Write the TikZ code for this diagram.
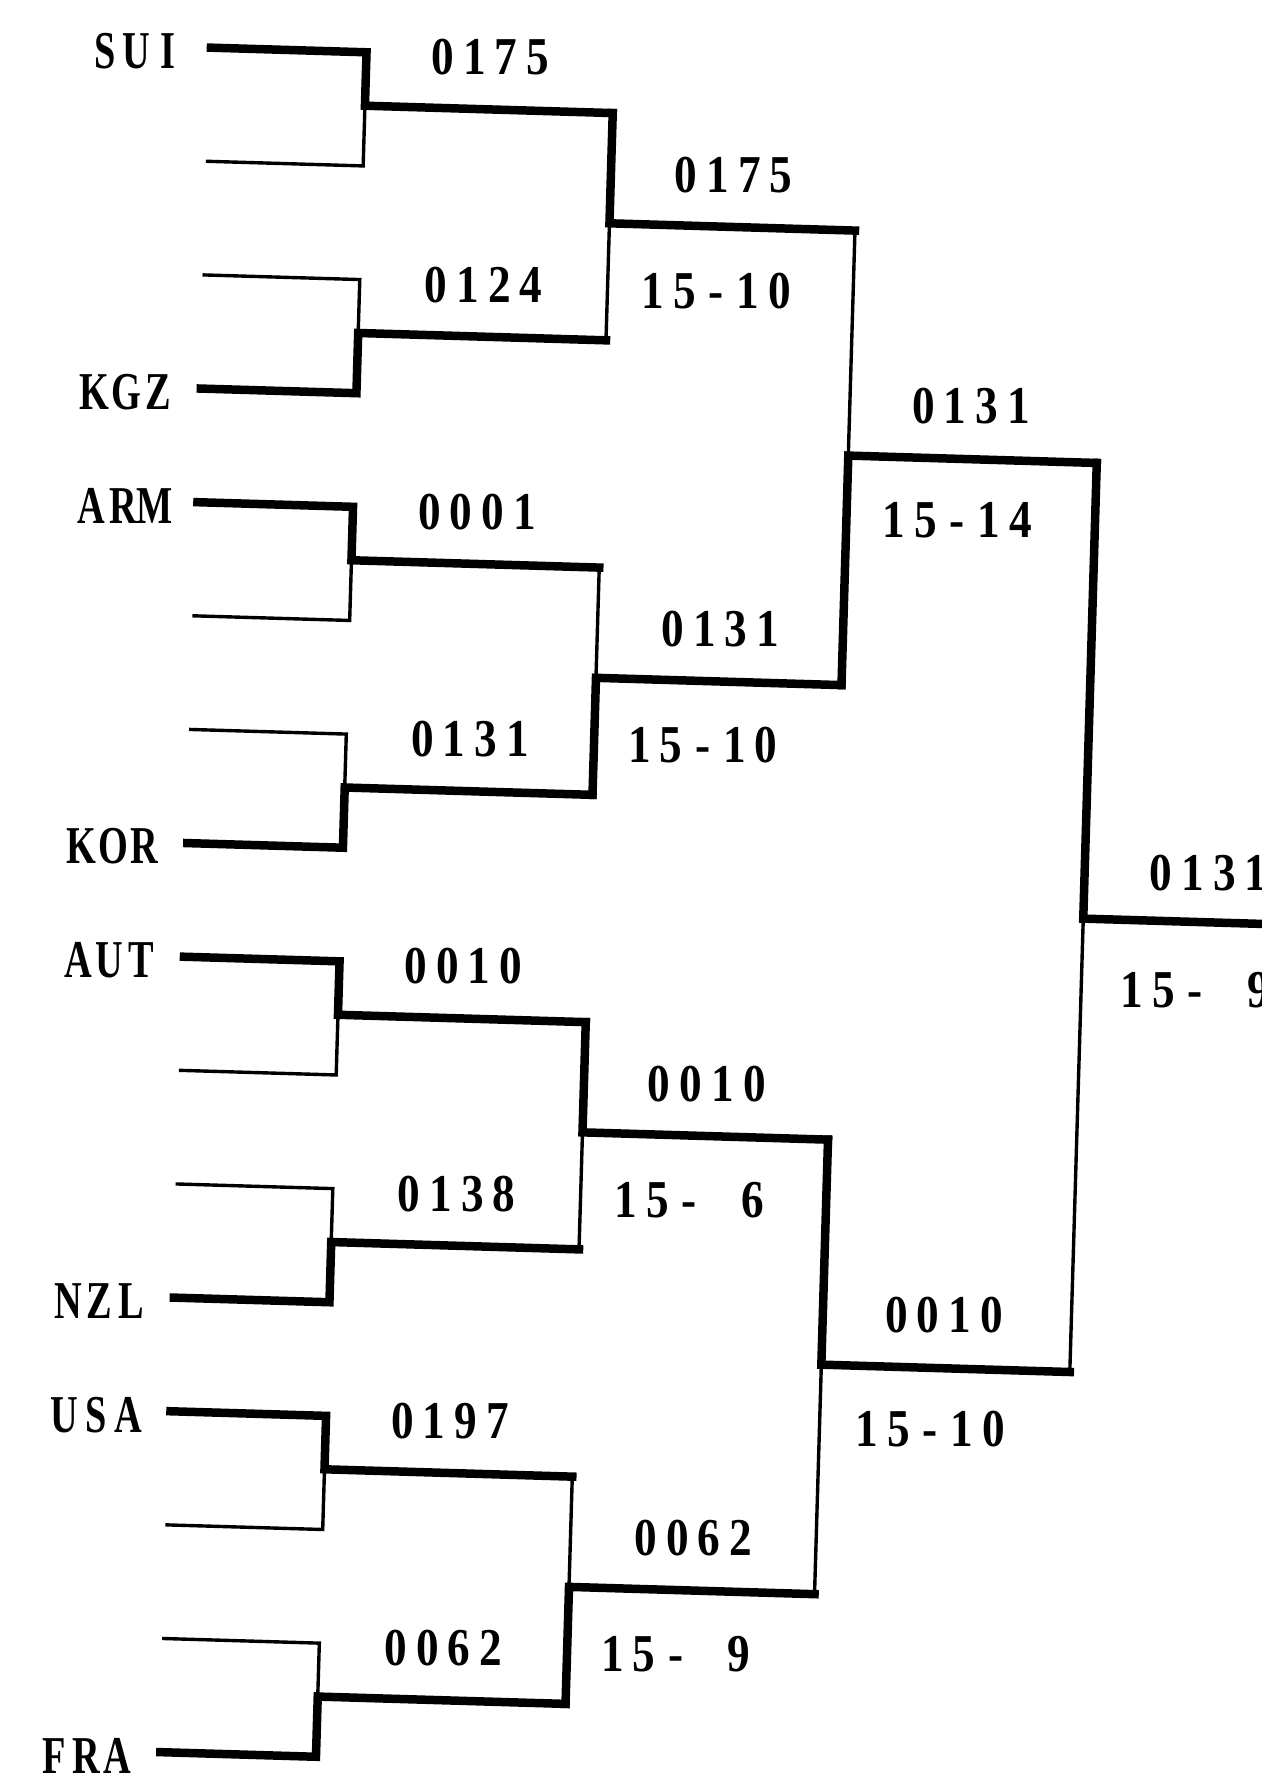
\documentclass[tikz,border=0pt]{standalone}
\usepackage{fontspec}
\newfontfamily\labfont{Liberation Serif}[FakeStretch=0.85]
\newfontfamily\ctyfont{Liberation Serif}[FakeStretch=0.72]
\newcommand\cellw{28pt}
\def\mkcells#1{\ifx#1\relax\else\makebox[\cellw][c]{#1}\expandafter\mkcells\fi}
\tikzset{
  thk/.style={line width=7.5pt, line cap=rect, line join=miter},
  thn/.style={line width=3pt, line cap=rect, line join=miter},
  lab/.style={font=\labfont\bfseries\fontsize{47}{47}\selectfont, inner sep=0pt, anchor=center},
  cty/.style={font=\ctyfont\bfseries\fontsize{47}{47}\selectfont, inner sep=0pt, anchor=center},
}
\begin{document}
\begin{tikzpicture}[x=1pt,y=-1pt]
\useasboundingbox (0,0) rectangle (1114,1568);
\begin{scope}[rotate around={-1.7:(557,784)}]
% leaf ends and first-level corners
\foreach \i in {0,...,15} {
  \coordinate (L\i) at (164.5,{53.4+100.43*\i});
  \coordinate (C\i) at (302,{53.4+100.43*\i});
}
\foreach \k in {0,...,7} {
  \coordinate (M\k) at (302,{50.4+100.43*(2*\k+0.5)});
  \coordinate (D\k) at (521,{50.4+100.43*(2*\k+0.5)});
}
\foreach \j in {0,...,3} {
  \coordinate (N\j) at (521,{47.4+100.43*(4*\j+1.5)});
  \coordinate (E\j) at (738,{47.4+100.43*(4*\j+1.5)});
}
\foreach \m in {0,1} {
  \coordinate (P\m) at (738,{45.4+100.43*(8*\m+3.5)});
  \coordinate (F\m) at (957.6,{45.4+100.43*(8*\m+3.5)});
}
\coordinate (Q) at (957.6,{46.4+100.43*7.5});
\coordinate (R) at (1200,{46.4+100.43*7.5});
% first round
\foreach \k/\w in {0/0,1/1,2/0,3/1,4/0,5/1,6/0,7/1} {
  \pgfmathtruncatemacro\win{2*\k+\w}
  \pgfmathtruncatemacro\los{2*\k+1-\w}
  \draw[thn] (L\los) -- (C\los) -- (M\k);
  \draw[thk] (L\win) -- (C\win) -- (M\k) -- (D\k);
}
% second round
\foreach \j/\w in {0/0,1/1,2/0,3/1} {
  \pgfmathtruncatemacro\win{2*\j+\w}
  \pgfmathtruncatemacro\los{2*\j+1-\w}
  \draw[thn] (D\los) -- (N\j);
  \draw[thk] (D\win) -- (N\j) -- (E\j);
}
% third round
\foreach \m/\w in {0/1,1/0} {
  \pgfmathtruncatemacro\win{2*\m+\w}
  \pgfmathtruncatemacro\los{2*\m+1-\w}
  \draw[thn] (E\los) -- (P\m);
  \draw[thk] (E\win) -- (P\m) -- (F\m);
}
% final
\draw[thn] (F1) -- (Q);
\draw[thk] (F0) -- (Q) -- (R);
% country labels
\foreach \i/\t in {0/SUI,3/KGZ,4/ARM,7/KOR,8/AUT,11/NZL,12/USA,15/FRA}
  \node[cty] (c\i) at (99,{53.4+100.43*\i+5}) {\expandafter\mkcells\t\relax};
% round 1 labels
\foreach \k/\t in {0/0175,1/0124,2/0001,3/0131,4/0010,5/0138,6/0197,7/0062}
  \node[lab] (a\k) at (411.5,{50.4+100.43*(2*\k+0.5)-46}) {\expandafter\mkcells\t\relax};
% round 2 labels
\foreach \j/\t/\s in {0/0175/15-10,1/0131/15-10,2/0010/15-~6,3/0062/15-~9} {
  \node[lab] (b\j) at (629.5,{47.4+100.43*(4*\j+1.5)-46}) {\expandafter\mkcells\t\relax};
  \node[lab] (s\j) at (617,{47.4+100.43*(4*\j+1.5)+57}) {\expandafter\mkcells\s\relax};
}
% round 3 labels
\foreach \m/\t/\s in {0/0131/15-14,1/0010/15-10} {
  \node[lab] (d\m) at (845,{45.4+100.43*(8*\m+3.5)-47}) {\expandafter\mkcells\t\relax};
  \node[lab] (e\m) at (836,{45.4+100.43*(8*\m+3.5)+54}) {\expandafter\mkcells\s\relax};
}
% final labels
\node[lab, anchor=west] (fw) at (1011,{46.4+100.43*7.5-42}) {\mkcells 0131\relax};
\node[lab, anchor=west] (fs) at (988,{46.4+100.43*7.5+62}) {\mkcells 15-~9\relax};
\end{scope}
\end{tikzpicture}
\end{document}
